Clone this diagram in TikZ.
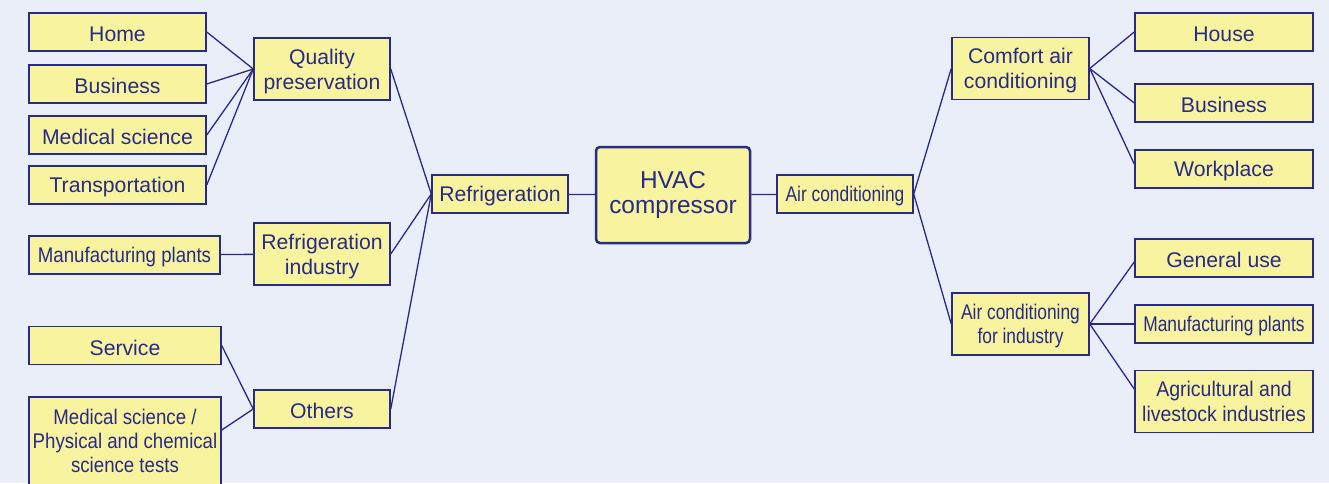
\documentclass[tikz,border=0pt]{standalone}
\usepackage{fontspec}
\setmainfont{Liberation Sans}
\newfontfamily\narrowsf[FakeStretch=0.82]{Liberation Sans}
\newfontfamily\semisf[FakeStretch=0.88]{Liberation Sans}
\newfontfamily\agrisf[FakeStretch=0.92]{Liberation Sans}
\definecolor{bgblue}{RGB}{234,238,249}
\definecolor{boxfill}{RGB}{247,243,158}
\definecolor{navy}{RGB}{40,42,135}

\begin{document}
\begin{tikzpicture}[
  x=0.5pt, y=-0.5pt,
  font=\fontsize{10.6}{12.5}\selectfont, text=navy,
  box/.style={draw=navy, line width=0.75pt, fill=boxfill, align=center, inner sep=0pt, minimum height=19pt,
    execute at begin node={\rule{0pt}{9.8pt}}},
  leaf/.style={box, minimum width=88.5pt},
  wide/.style={box, minimum width=96pt},
  mid/.style={box, minimum width=68pt},
  tall/.style={minimum height=31pt, text depth=0pt},
  narrow/.style={font=\fontsize{10.6}{12}\narrowsf},
  semi/.style={font=\fontsize{10.6}{12.2}\semisf},
  hub/.style={box, rounded corners=2pt, line width=1.25pt, minimum width=77pt, minimum height=48pt,
    font=\fontsize{12.2}{12.5}\selectfont, execute at begin node={}},
  link/.style={draw=navy, line width=0.65pt},
]
\fill[bgblue] (0,0) rectangle (1329,483);
\clip (0,0) rectangle (1329,483);
% left leaves
\node[leaf] (home) at (117.5,32) {Home};
\node[leaf] (busl) at (117.5,84) {Business};
\node[leaf] (medl) at (117.5,135) {Medical science};
\node[leaf] (trans) at (117.5,185) {Transportation};
\node[wide, semi, minimum width=95.5pt] (mfgl) at (124.5,255) {Manufacturing plants};
\node[wide] (serv) at (125,345.5) {Service};
\node[wide, semi, minimum height=44pt, execute at begin node={}] (tests) at (125,441) {Medical science /\\Physical and chemical\\science tests};
% refrigeration branch
\node[mid, tall] (qual) at (322,69) {Quality\\preservation};
\node[mid, tall] (rind) at (322,254) {Refrigeration\\industry};
\node[mid] (oth) at (322,409) {Others};
\node[mid] (refr) at (500,194) {Refrigeration};
\node[hub] (hvac) at (673,195) {HVAC\\compressor};
% air conditioning branch
\node[mid, narrow] (aircon) at (845,194) {Air conditioning};
\node[mid, tall, minimum width=68.5pt] (comf) at (1020.5,68.5) {Comfort air\\conditioning};
\node[mid, tall, narrow, minimum width=68.5pt] (aind) at (1020.5,324) {Air conditioning\\for industry};
\node[leaf, minimum width=89pt] (house) at (1224,32) {House};
\node[leaf, minimum width=89pt] (busr) at (1224,103) {Business};
\node[leaf, minimum width=89pt] (work) at (1224,169) {Workplace};
\node[leaf, minimum width=89pt] (gen) at (1224,258) {General use};
\node[leaf, narrow, minimum width=89pt] (mfgr) at (1224,324) {Manufacturing plants};
\node[leaf, tall, minimum width=89pt, font=\fontsize{10.6}{12.2}\agrisf] (agri) at (1224,401.5) {Agricultural and\\livestock industries};
% connectors
\foreach \n in {home,busl,medl,trans} \draw[link] (\n.east) -- (qual.west);
\draw[link] (mfgl) -- (rind);
\draw[link] (serv.east) -- (oth.west);
\draw[link] ([yshift=5.5pt]tests.east) -- (oth.west);
\foreach \n in {qual,rind,oth} \draw[link] (\n.east) -- (refr.west);
\draw[link] (refr) -- (hvac);
\draw[link] (hvac) -- (aircon);
\draw[link] (aircon.east) -- (comf.west);
\draw[link] (aircon.east) -- (aind.west);
\draw[link] (comf.east) -- (house.west);
\draw[link] (comf.east) -- (busr.west);
\draw[link] (comf.east) -- ([yshift=2.5pt]work.west);
\draw[link] (aind.east) -- ([yshift=-2pt]gen.west);
\draw[link] (aind.east) -- (mfgr.west);
\draw[link] (aind.east) -- ([yshift=6.25pt]agri.west);
\end{tikzpicture}
\end{document}
